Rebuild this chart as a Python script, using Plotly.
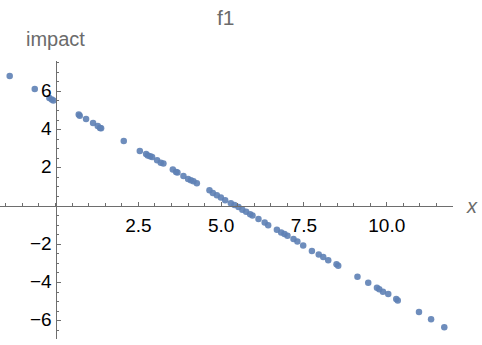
import plotly.graph_objects as go

# sampled (x, impact) pairs for f1
x_vals = [-1.384, -0.628, -0.187, -0.115, -0.066, 0.701, 0.731, 0.921, 1.133, 1.275,
          1.344, 1.375, 2.060, 2.544, 2.734, 2.785, 2.855, 2.915, 3.066, 3.178,
          3.257, 3.541, 3.640, 3.680, 3.861, 4.003, 4.085, 4.163, 4.266, 4.647,
          4.749, 4.870, 4.991, 5.121, 5.293, 5.402, 5.523, 5.640, 5.755, 5.876,
          5.946, 6.127, 6.314, 6.420, 6.683, 6.813, 6.912, 7.003, 7.184, 7.302,
          7.477, 7.740, 7.946, 8.082, 8.233, 8.483, 8.535, 9.115, 9.441, 9.704,
          9.773, 9.885, 10.045, 10.287, 10.332, 10.973, 11.338, 11.737]
impact = [6.81, 6.13, 5.66, 5.58, 5.52, 4.79, 4.73, 4.55, 4.35, 4.19,
          4.08, 4.07, 3.40, 2.88, 2.72, 2.65, 2.60, 2.57, 2.39, 2.27,
          2.22, 1.91, 1.78, 1.75, 1.57, 1.41, 1.35, 1.29, 1.19, 0.82,
          0.68, 0.56, 0.44, 0.30, 0.14, 0.05, -0.05, -0.20, -0.30, -0.43,
          -0.50, -0.68, -0.86, -1.00, -1.24, -1.38, -1.47, -1.55, -1.73, -1.86,
          -2.07, -2.36, -2.54, -2.67, -2.84, -3.05, -3.12, -3.70, -4.02, -4.28,
          -4.36, -4.49, -4.61, -4.87, -4.94, -5.55, -5.92, -6.34]

x_ticks = [2.5, 5.0, 7.5, 10.0]
x_tick_text = ["2.5", "5.0", "7.5", "10.0"]
y_ticks = [-6, -4, -2, 2, 4, 6]
y_tick_text = ["\u22126", "\u22124", "\u22122", "2", "4", "6"]

X_RANGE = [-1.677, 12.0]
Y_RANGE = [-6.96, 7.59]

W, H = 482, 345
L, R, T, B = 0, 29, 61, 6
PW, PH = W - L - R, H - T - B

AXIS_GRAY = "#6e6e6e"
LABEL_GRAY = "#6b6b6b"
FONT = "Liberation Sans, Arial, sans-serif"


def px(xp):
    return (xp - L) / PW


def py(yp):
    return (H - B - yp) / PH


x_axis_pos = (0 - Y_RANGE[0]) / (Y_RANGE[1] - Y_RANGE[0])
y_axis_pos = (0 - X_RANGE[0]) / (X_RANGE[1] - X_RANGE[0])

fig = go.Figure(go.Scatter(
    x=x_vals, y=impact, mode="markers",
    marker=dict(color="rgb(94,129,181)", size=6.5, opacity=0.9, line=dict(width=0)),
    hoverinfo="skip",
))

axis_common = dict(
    anchor="free", showgrid=False, zeroline=False,
    showline=True, linecolor=AXIS_GRAY, linewidth=1.1,
    tickmode="array",
    ticks="inside", ticklen=4, tickwidth=1, tickcolor=AXIS_GRAY,
    minor=dict(tickmode="linear", tick0=0, dtick=0.5, ticks="inside",
               ticklen=2.5, tickwidth=1, tickcolor=AXIS_GRAY, showgrid=False),
    tickfont=dict(family=FONT, size=19, color="black"),
    automargin=False, fixedrange=True,
)

fig.update_layout(
    width=W, height=H,
    margin=dict(l=L, r=R, t=T, b=B, pad=0),
    paper_bgcolor="white", plot_bgcolor="white",
    showlegend=False,
    font=dict(family=FONT, size=19, color="black"),
    xaxis=dict(range=X_RANGE, position=x_axis_pos,
               tickvals=x_ticks, ticktext=x_tick_text,
               ticklabelstandoff=2, **axis_common),
    yaxis=dict(range=Y_RANGE, position=y_axis_pos,
               tickvals=y_ticks, ticktext=y_tick_text,
               ticklabelshift=-1, **axis_common),
    annotations=[
        dict(text="f1", xref="paper", yref="paper", x=px(226), y=py(17),
             showarrow=False, xanchor="center", yanchor="middle",
             font=dict(family=FONT, size=21, color=LABEL_GRAY)),
        dict(text="impact", xref="paper", yref="paper", x=px(55.5), y=py(39),
             showarrow=False, xanchor="center", yanchor="middle",
             font=dict(family=FONT, size=20, color=LABEL_GRAY)),
        dict(text="<i>x</i>", xref="paper", yref="paper", x=px(472), y=py(206),
             showarrow=False, xanchor="center", yanchor="middle",
             font=dict(family=FONT, size=20, color=LABEL_GRAY)),
    ],
)

fig.write_html("out.html")
